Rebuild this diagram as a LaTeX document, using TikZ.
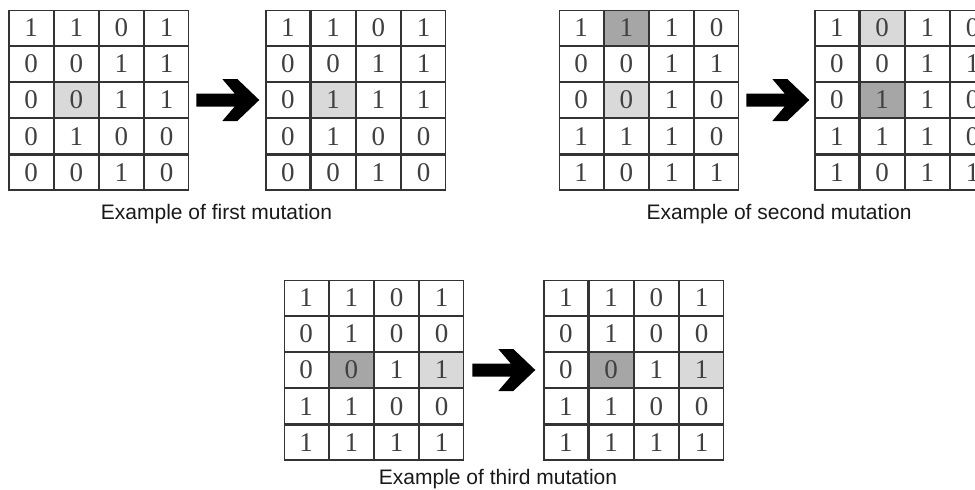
\documentclass[tikz,border=0pt]{standalone}
\usepackage{fontspec}
\newfontfamily\cellfont{Liberation Serif}
\newfontfamily\capfont{Liberation Sans}
\usepackage{tikz}
\usetikzlibrary{positioning, matrix}

\tikzset{
  cell/.style={draw=black!80, line width=1.2pt, minimum width=44pt, minimum height=35pt, anchor=center,
    inner sep=0pt, outer sep=0pt, text=black!75, font=\cellfont\fontsize{27}{30}\selectfont},
  lite/.style={fill=black!15},
  dark/.style={fill=black!35},
  grid/.style={matrix of nodes, nodes={cell}, column sep=0pt, row sep=0pt, inner sep=0pt, outer sep=0pt},
  caption/.style={anchor=base, text=black!90, font=\capfont\fontsize{21}{24}\selectfont},
  bigarrow/.pic={\fill (-63,6.5) -- (-24.6,6.5) -- (-37,21) -- (-22,21) -- (0,0) -- (-22,-21)
    -- (-37,-21) -- (-24.6,-6.5) -- (-63,-6.5) -- cycle;}
}

\begin{document}
\begin{tikzpicture}[x=1pt, y=1pt]
\useasboundingbox (0,0) rectangle (975,-490);
\clip (0,0) rectangle (975,-490);

% first mutation
\matrix (mA) [grid, anchor=north west] at (8.5,-9.5) {
1 & 1 & 0 & 1 \\
0 & 0 & 1 & 1 \\
0 & |[lite]| 0 & 1 & 1 \\
0 & 1 & 0 & 0 \\
0 & 0 & 1 & 0 \\
};
\matrix (mB) [grid, right = 76pt of mA] {
1 & 1 & 0 & 1 \\
0 & 0 & 1 & 1 \\
0 & |[lite]| 1 & 1 & 1 \\
0 & 1 & 0 & 0 \\
0 & 0 & 1 & 0 \\
};
\coordinate[left = 6pt of mB.west] (tipA);
\pic at (tipA) {bigarrow};
\node (capA) [caption] at (216.5,-219) {Example of first mutation};

% second mutation
\matrix (mC) [grid, anchor=north west] at (558.5,-9.5) {
1 & |[dark]| 1 & 1 & 0 \\
0 & 0 & 1 & 1 \\
0 & |[lite]| 0 & 1 & 0 \\
1 & 1 & 1 & 0 \\
1 & 0 & 1 & 1 \\
};
\matrix (mD) [grid, right = 75pt of mC] {
1 & |[lite]| 0 & 1 & 0 \\
0 & 0 & 1 & 1 \\
0 & |[dark]| 1 & 1 & 0 \\
1 & 1 & 1 & 0 \\
1 & 0 & 1 & 1 \\
};
\coordinate[left = 5pt of mD.west] (tipB);
\pic at (tipB) {bigarrow};
\node (capB) [caption] at (779,-219) {Example of second mutation};

% third mutation
\matrix (mE) [grid, anchor=north west] at (283.5,-279.5) {
1 & 1 & 0 & 1 \\
0 & 1 & 0 & 0 \\
0 & |[dark]| 0 & 1 & |[lite]| 1 \\
1 & 1 & 0 & 0 \\
1 & 1 & 1 & 1 \\
};
\matrix (mF) [grid, right = 79pt of mE] {
1 & 1 & 0 & 1 \\
0 & 1 & 0 & 0 \\
0 & |[dark]| 0 & 1 & |[lite]| 1 \\
1 & 1 & 0 & 0 \\
1 & 1 & 1 & 1 \\
};
\coordinate[left = 8pt of mF.west] (tipC);
\pic at (tipC) {bigarrow};
\node (capC) [caption] at (498,-484) {Example of third mutation};
\end{tikzpicture}
\end{document}
